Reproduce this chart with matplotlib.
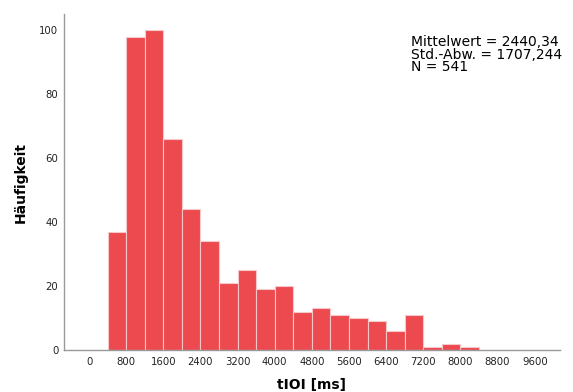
import numpy as np
import matplotlib
matplotlib.use('Agg')
import matplotlib.pyplot as plt

# histogram of tIOI, bins of 400 ms starting at 400
bin_edges = list(range(400, 8401, 400))
counts = [37, 98, 100, 66, 44, 34, 21, 25, 19, 20,
          12, 13, 11, 10, 9, 6, 11, 1, 2, 1]
x_ticks = list(range(0, 9601, 800))
y_ticks = [0, 20, 40, 60, 80, 100]
stats_text = 'Mittelwert = 2440,34\nStd.-Abw. = 1707,244\nN = 541'

fig = plt.figure(figsize=(5.73, 3.92), dpi=100)
ax = fig.add_axes([0.1117, 0.107, 0.8653, 0.857])

ax.bar(bin_edges[:-1], counts, width=np.diff(bin_edges), align='edge',
       color='#ec4a4f', edgecolor='#f7c8c9', linewidth=0.8)

ax.set_xlim(-540, 10140)
ax.set_ylim(0, 105)
ax.set_xticks(x_ticks)
ax.set_yticks(y_ticks)
ax.tick_params(length=0, labelsize=7.3, colors='#222222', pad=4)
ax.tick_params(axis='x', pad=5)

for side in ['top', 'right']:
    ax.spines[side].set_visible(False)
for side in ['left', 'bottom']:
    ax.spines[side].set_color('#999999')
    ax.spines[side].set_linewidth(1.0)

ax.set_xlabel('tIOI [ms]', fontsize=10, fontweight='bold', labelpad=8)
ax.set_ylabel('Häufigkeit', fontsize=10, fontweight='bold', labelpad=8)

fig.text(411 / 573, 1 - 35 / 392, stats_text, fontsize=10, va='top',
         ha='left', linespacing=0.88, color='black')

fig.savefig('out.png', dpi=100)
